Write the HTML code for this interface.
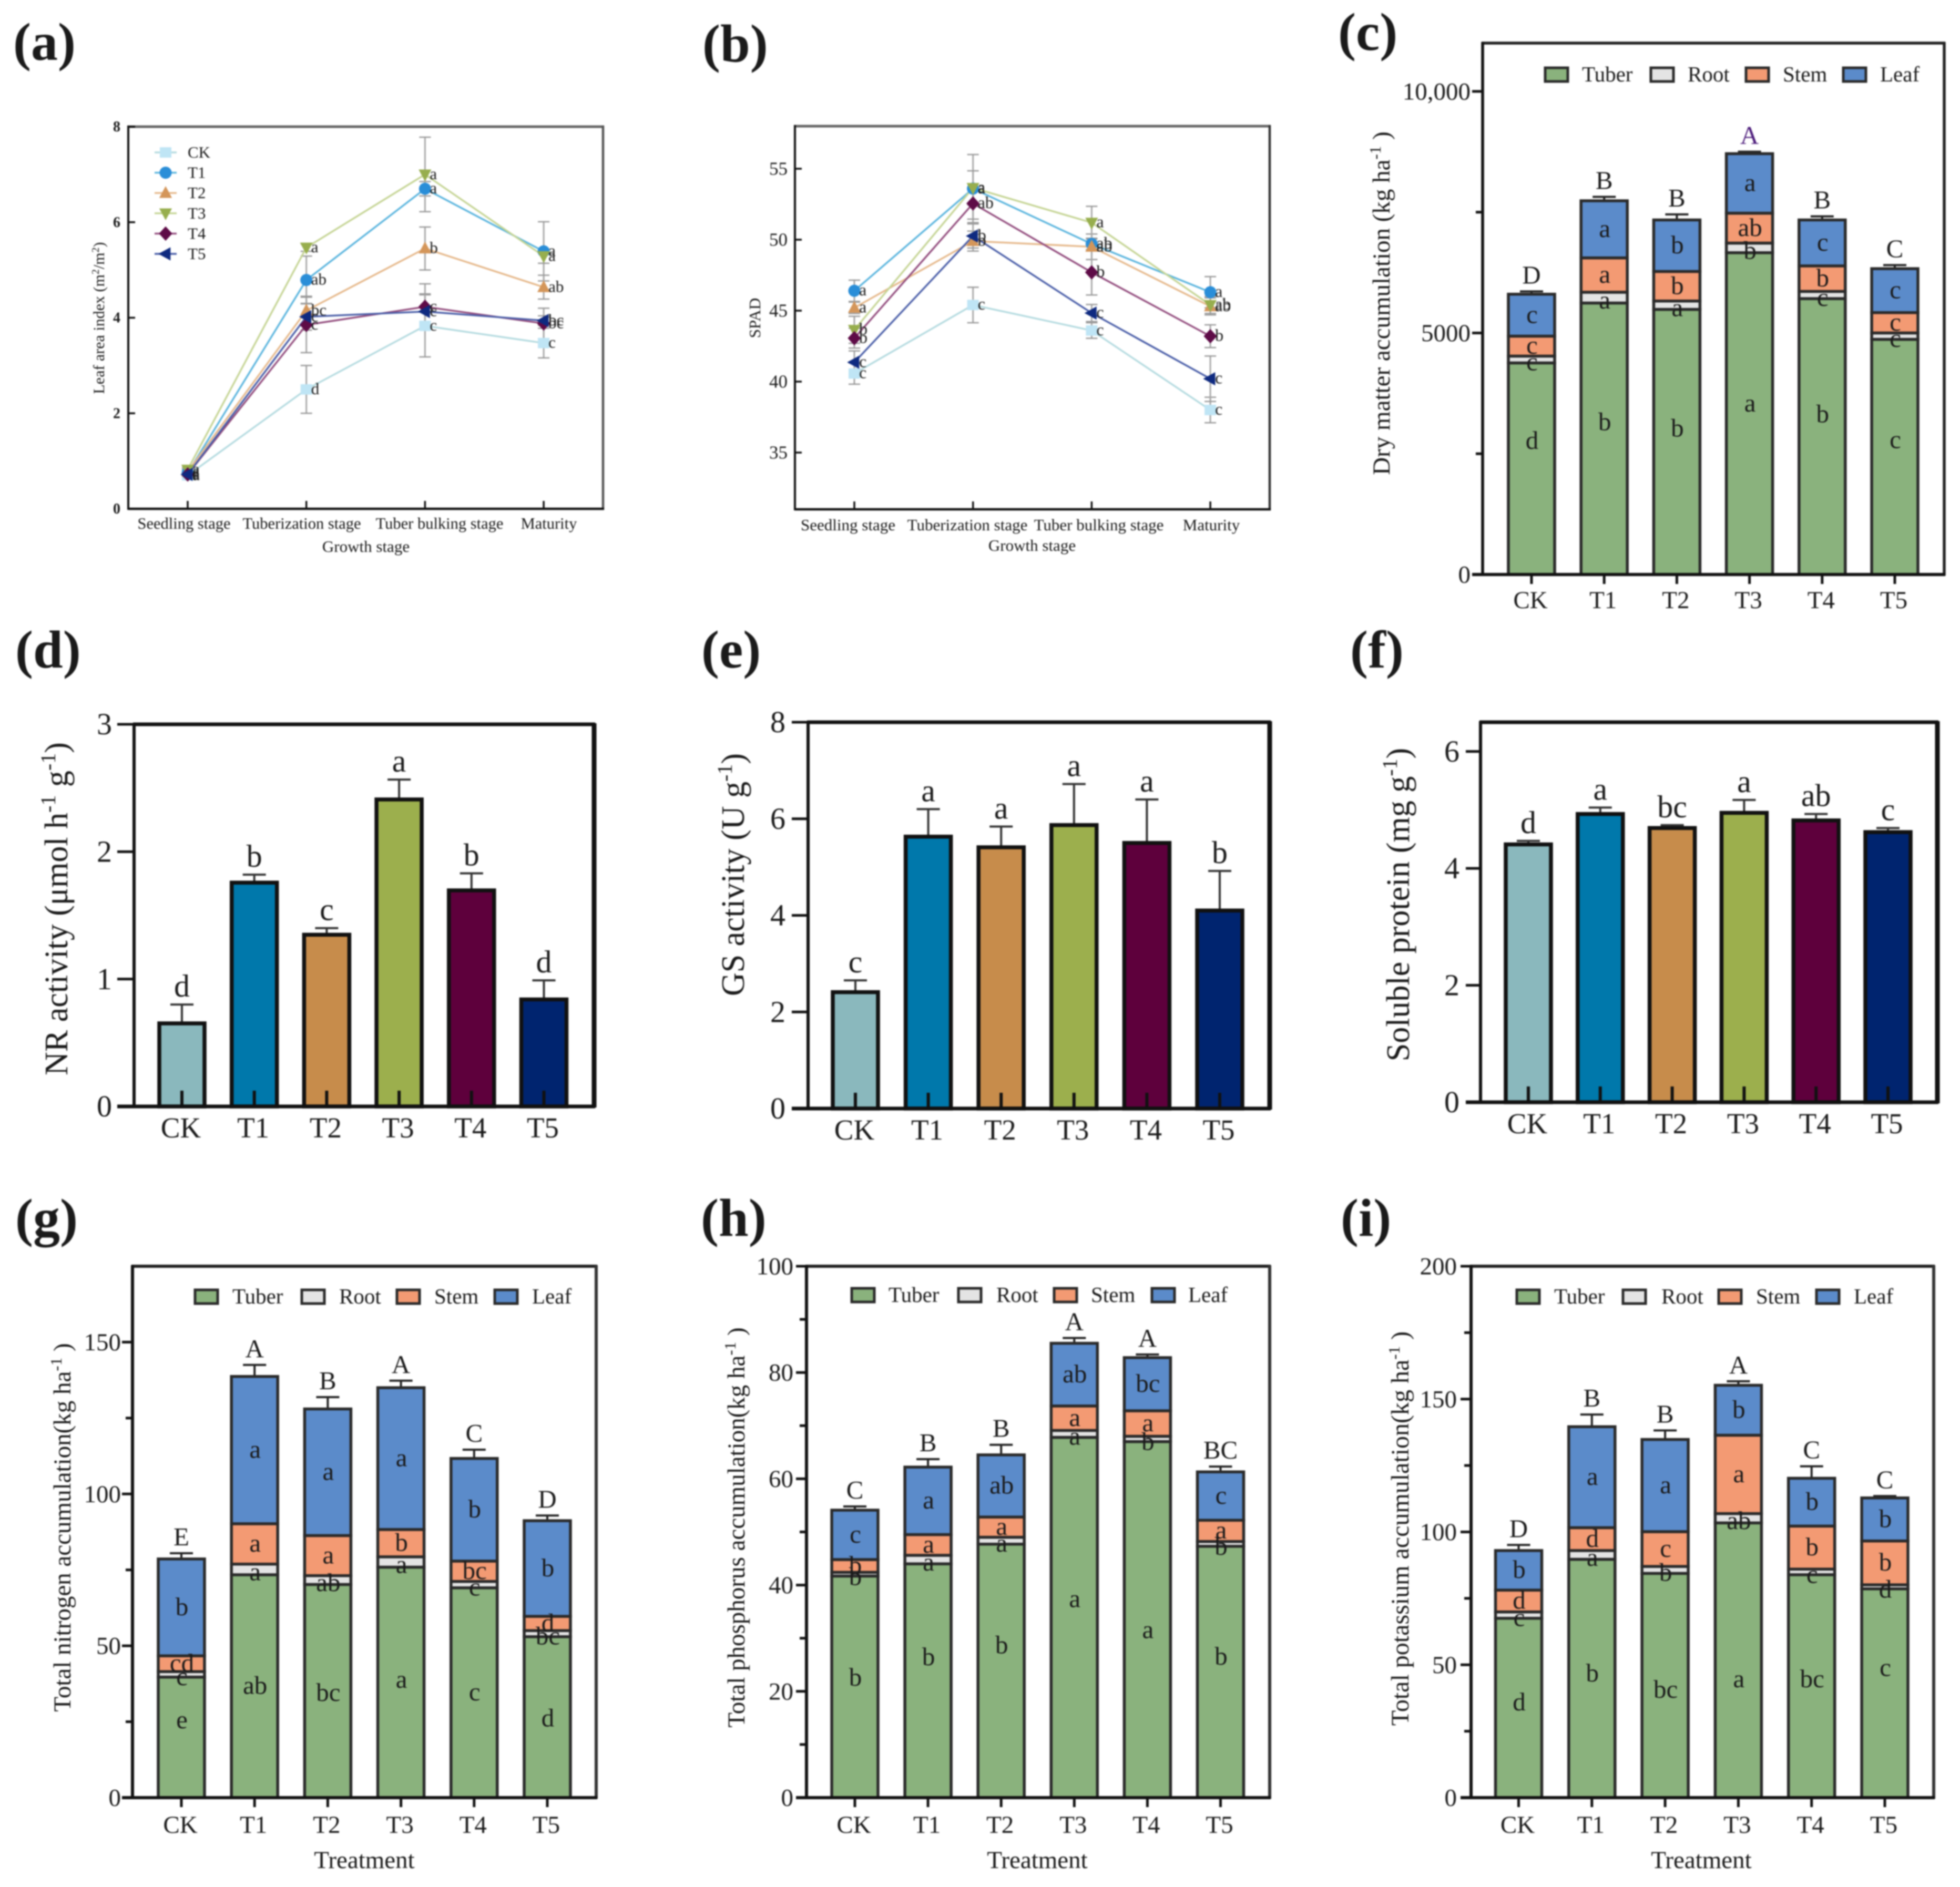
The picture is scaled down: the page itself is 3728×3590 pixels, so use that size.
<!DOCTYPE html>
<html lang="en">
<head>
<meta charset="utf-8">
<title>Growth and nutrient accumulation panels</title>
<style>
html,body{margin:0;padding:0;background:#fff;}
body{width:3728px;height:3590px;overflow:hidden;}
svg{display:block;filter:blur(1.3px);}
text{font-family:"Liberation Serif","Noto Serif CJK SC",serif;fill:#1a1a1a;}
</style>
</head>
<body>
<svg id="figure" xmlns="http://www.w3.org/2000/svg" width="3728" height="3590" viewBox="0 0 3728 3590">
<rect x="0" y="0" width="3728" height="3590" fill="#ffffff"/>
<g font-size="102" font-weight="bold">
<text x="25" y="114">(a)</text>
<text x="1336" y="117">(b)</text>
<text x="2545" y="95">(c)</text>
<text x="29" y="1270">(d)</text>
<text x="1334" y="1270">(e)</text>
<text x="2568" y="1270">(f)</text>
<text x="29" y="2351">(g)</text>
<text x="1333" y="2351">(h)</text>
<text x="2550" y="2351">(i)</text>
</g>
<text transform="translate(198,605) rotate(-90)" text-anchor="middle" font-size="30">Leaf area index (m<tspan dy="-10" font-size="20">2</tspan><tspan dy="10">/m</tspan><tspan dy="-10" font-size="20">2</tspan><tspan dy="10">)</tspan></text>
<text transform="translate(1446,605) rotate(-90)" text-anchor="middle" font-size="31">SPAD</text>
<text transform="translate(2643,577) rotate(-90)" text-anchor="middle" font-size="47">Dry matter accumulation (kg ha<tspan dy="-17" font-size="31">-1</tspan><tspan dy="17"> )</tspan></text>
<text transform="translate(128,1729) rotate(-90)" text-anchor="middle" font-size="62">NR activity (μmol h<tspan dy="-23" font-size="40">-1</tspan><tspan dy="23"> g</tspan><tspan dy="-23" font-size="40">-1</tspan><tspan dy="23">)</tspan></text>
<text transform="translate(1415,1664) rotate(-90)" text-anchor="middle" font-size="62">GS activity (U g<tspan dy="-23" font-size="40">-1</tspan><tspan dy="23">)</tspan></text>
<text transform="translate(2680,1721) rotate(-90)" text-anchor="middle" font-size="62">Soluble protein (mg g<tspan dy="-23" font-size="40">-1</tspan><tspan dy="23">)</tspan></text>
<text transform="translate(134,2906) rotate(-90)" text-anchor="middle" font-size="47">Total nitrogen accumulation(kg ha<tspan dy="-17" font-size="31">-1</tspan><tspan dy="17"> )</tspan></text>
<text transform="translate(1416,2906) rotate(-90)" text-anchor="middle" font-size="47">Total phosphorus accumulation(kg ha<tspan dy="-17" font-size="31">-1</tspan><tspan dy="17"> )</tspan></text>
<text transform="translate(2679,2908) rotate(-90)" text-anchor="middle" font-size="48">Total potassium accumulation(kg ha<tspan dy="-17" font-size="31">-1</tspan><tspan dy="17"> )</tspan></text>
<text x="696" y="1050" text-anchor="middle" font-size="31">Growth stage</text>
<text x="1963" y="1048" text-anchor="middle" font-size="31">Growth stage</text>
<text x="693" y="3554" text-anchor="middle" font-size="47">Treatment</text>
<text x="1973" y="3554" text-anchor="middle" font-size="47">Treatment</text>
<text x="3236" y="3554" text-anchor="middle" font-size="47">Treatment</text>
</svg>
<script>
// ---------- shared categories ----------
const treatments = ['CK', 'T1', 'T2', 'T3', 'T4', 'T5'];
const stages = ['Seedling stage', 'Tuberization stage', 'Tuber bulking stage', 'Maturity'];
const stackParts = ['Tuber', 'Root', 'Stem', 'Leaf'];

// ---------- panel a: leaf area index ----------
const aCK = [0.70, 2.50, 3.83, 3.47];
const aT1 = [0.75, 4.79, 6.70, 5.39];
const aT2 = [0.78, 4.15, 5.45, 4.64];
const aT3 = [0.82, 5.47, 7.00, 5.29];
const aT4 = [0.72, 3.85, 4.23, 3.88];
const aT5 = [0.72, 4.02, 4.13, 3.94];
const aErrCK = [0.08, 0.50, 0.65, 0.31];
const aErrT1 = [0.08, 0.50, 0.15, 0.62];
const aErrT2 = [0.08, 0.30, 0.45, 0.25];
const aErrT3 = [0.08, 0.08, 0.78, 0.15];
const aErrT4 = [0.08, 0.58, 0.48, 0.32];
const aErrT5 = [0.08, 0.28, 0.37, 0.10];
const aLetCK = ['a', 'd', 'c', 'c'];
const aLetT1 = ['a', 'ab', 'a', 'a'];
const aLetT2 = ['a', 'bc', 'b', 'ab'];
const aLetT3 = ['a', 'a', 'a', 'a'];
const aLetT4 = ['a', 'c', 'c', 'bc'];
const aLetT5 = ['a', 'c', 'c', 'bc'];
const aTicks = [0, 2, 4, 6, 8];

// ---------- panel b: SPAD ----------
const bCK = [40.57, 45.40, 43.60, 38.00];
const bT1 = [46.40, 53.60, 49.70, 46.30];
const bT2 = [45.20, 49.90, 49.50, 45.30];
const bT3 = [43.65, 53.65, 51.20, 45.40];
const bT4 = [43.06, 52.55, 47.70, 43.20];
const bT5 = [41.36, 50.26, 44.83, 40.20];
const bErrCK = [0.75, 1.25, 0.55, 0.90];
const bErrT1 = [0.75, 2.40, 0.40, 1.10];
const bErrT2 = [0.40, 0.70, 0.90, 0.60];
const bErrT3 = [0.95, 1.20, 1.15, 0.60];
const bErrT4 = [0.70, 1.10, 1.60, 0.80];
const bErrT5 = [0.80, 0.85, 0.60, 1.60];
const bLetCK = ['c', 'c', 'c', 'c'];
const bLetT1 = ['a', 'a', 'ab', 'a'];
const bLetT2 = ['a', 'b', 'ab', 'ab'];
const bLetT3 = ['b', 'a', 'a', 'ab'];
const bLetT4 = ['b', 'ab', 'b', 'b'];
const bLetT5 = ['c', 'b', 'c', 'c'];
const bTicks = [35, 40, 45, 50, 55];

// ---------- panel c: dry matter ----------
const cTuber = [4380, 5620, 5488, 6661, 5711, 4868];
const cRoot = [141, 223, 173, 199, 149, 132];
const cStem = [413, 711, 612, 619, 528, 421];
const cLeaf = [868, 1182, 1066, 1232, 951, 910];
const cErr = [58, 82, 116, 41, 74, 74];
const cTuberLet = ['d', 'b', 'b', 'a', 'b', 'c'];
const cRootLet = ['c', 'a', 'a', 'b', 'c', 'c'];
const cStemLet = ['c', 'a', 'b', 'ab', 'b', 'c'];
const cLeafLet = ['c', 'a', 'b', 'a', 'c', 'c'];
const cTopLet = ['D', 'B', 'B', 'A', 'B', 'C'];
const cTuberLetFrac = [0.63, 0.56, 0.55, 0.53, 0.58, 0.57];
const cTicks = [0, 5000, 10000];
const cTickLabels = ['0', '5000', '10,000'];
const cMinor = [2500, 7500];

// ---------- panel d: NR activity ----------
const dValues = [0.652, 1.757, 1.348, 2.41, 1.696, 0.84];
const dErr = [0.148, 0.063, 0.052, 0.156, 0.134, 0.15];
const dLetters = ['d', 'b', 'c', 'a', 'b', 'd'];
const dTicks = [0, 1, 2, 3];

// ---------- panel e: GS activity ----------
const eValues = [2.41, 5.63, 5.41, 5.87, 5.5, 4.1];
const eErr = [0.245, 0.57, 0.43, 0.85, 0.9, 0.82];
const eLetters = ['c', 'a', 'a', 'a', 'a', 'b'];
const eTicks = [0, 2, 4, 6, 8];

// ---------- panel f: soluble protein ----------
const fValues = [4.41, 4.93, 4.69, 4.95, 4.82, 4.62];
const fErr = [0.06, 0.11, 0.05, 0.22, 0.11, 0.07];
const fLetters = ['d', 'a', 'bc', 'a', 'ab', 'c'];
const fTicks = [0, 2, 4, 6];

// ---------- panel g: nitrogen ----------
const gTuber = [39.7, 73.4, 70.2, 75.9, 69.1, 53];
const gRoot = [1.8, 3.5, 2.9, 3.4, 2.1, 2];
const gStem = [5.2, 13.3, 13.2, 9, 6.7, 4.7];
const gLeaf = [31.9, 48.5, 41.7, 46.7, 33.8, 31.5];
const gErr = [1.9, 3.8, 3.9, 2.3, 2.9, 1.7];
const gTuberLet = ['e', 'ab', 'bc', 'a', 'c', 'd'];
const gRootLet = ['c', 'a', 'ab', 'a', 'c', 'bc'];
const gStemLet = ['cd', 'a', 'a', 'b', 'bc', 'd'];
const gLeafLet = ['b', 'a', 'a', 'a', 'b', 'b'];
const gTopLet = ['E', 'A', 'B', 'A', 'C', 'D'];
const gTuberLetFrac = [0.64, 0.5, 0.49, 0.51, 0.5, 0.49];
const gTicks = [0, 50, 100, 150];
const gMinor = [25, 75, 125];

// ---------- panel h: phosphorus ----------
const hTuber = [41.7, 44, 47.7, 67.8, 67, 47.3];
const hRoot = [0.7, 1.6, 1.3, 1.3, 1, 0.9];
const hStem = [2.4, 3.9, 3.8, 4.6, 4.8, 4];
const hLeaf = [9.3, 12.7, 11.7, 11.8, 10, 9.1];
const hErr = [0.7, 1.5, 1.9, 1, 0.6, 1];
const hTuberLet = ['b', 'b', 'b', 'a', 'a', 'b'];
const hRootLet = ['b', 'a', 'a', 'a', 'b', 'b'];
const hStemLet = ['b', 'a', 'a', 'a', 'a', 'a'];
const hLeafLet = ['c', 'a', 'ab', 'ab', 'bc', 'c'];
const hTopLet = ['C', 'B', 'B', 'A', 'A', 'BC'];
const hTuberLetFrac = [0.54, 0.6, 0.6, 0.55, 0.47, 0.56];
const hTicks = [0, 20, 40, 60, 80, 100];
const hMinor = [10, 30, 50, 70, 90];

// ---------- panel i: potassium ----------
const iTuber = [67.5, 89.7, 84.4, 103.4, 83.9, 78.6];
const iRoot = [2.4, 3.3, 2.6, 3.5, 2.1, 1.5];
const iStem = [8.2, 8.6, 13.1, 29.5, 16.2, 16.5];
const iLeaf = [14.9, 38, 34.7, 18.8, 18, 16.2];
const iErr = [2.1, 4.6, 3.4, 1.5, 4.5, 0.7];
const iTuberLet = ['d', 'b', 'bc', 'a', 'bc', 'c'];
const iRootLet = ['c', 'a', 'b', 'ab', 'c', 'd'];
const iStemLet = ['d', 'd', 'c', 'a', 'b', 'b'];
const iLeafLet = ['b', 'a', 'a', 'b', 'b', 'b'];
const iTopLet = ['D', 'B', 'B', 'A', 'C', 'C'];
const iTuberLetFrac = [0.53, 0.52, 0.48, 0.43, 0.53, 0.62];
const iTicks = [0, 50, 100, 150, 200];
const iMinor = [25, 75, 125, 175];

// ---------- styles ----------
const NS = 'http://www.w3.org/2000/svg';
const root = document.getElementById('figure');
const singleColors = ['#8ab8bd', '#0078ab', '#c78c4b', '#9caf4d', '#5e003c', '#00246f'];
const markerColors = ['#bfe5f5', '#2a8ed8', '#d4965a', '#97ae4d', '#5e0b47', '#0f2a80'];
const lineColors = ['#b5dbe0', '#5bb5de', '#e6b98c', '#c6d596', '#934d7e', '#4a5ea8'];
const partColors = ['#8ab27d', '#e4e4e4', '#f39a73', '#5b8bca'];

function make(tag, attrs, parent, content) {
  const node = document.createElementNS(NS, tag);
  for (const key in attrs) node.setAttribute(key, attrs[key]);
  if (content !== undefined) node.textContent = content;
  parent.appendChild(node);
  return node;
}
function yAxisFn(p) {
  return function (v) { return p.bottom - (v - p.ymin) / (p.ymax - p.ymin) * (p.bottom - p.top); };
}
function xAxisFn(p) {
  return function (i) { return p.first + i * p.step; };
}
function drawLineSeg(parent, x1, y1, x2, y2, color, width, name) {
  const seg = make('line', { x1: x1, y1: y1, x2: x2, y2: y2, stroke: color, 'stroke-width': width }, parent);
  
  
  return seg;
}
function drawText(parent, x, y, str, size, anchor, name, extra) {
  const label = make('text', Object.assign({ x: x, y: y, 'font-size': size, 'text-anchor': anchor }, extra || {}), parent, str);
  
  
  return label;
}

function drawAxes(p, g, ticks, tickLabels, minor, xLabels) {
  const y = yAxisFn(p), x = xAxisFn(p);
  drawLineSeg(g, p.left - 2, p.top, p.right + 2, p.top, p.frameTop, p.wTop, 'frame-top');
  drawLineSeg(g, p.right, p.top - 2, p.right, p.bottom + 2, p.frameRight, p.wRight, 'frame-right');
  ticks.forEach(function (v, i) {
    if (p.tickIn) drawLineSeg(g, p.left, y(v), p.left + p.tickOut, y(v), '#111', p.wTick, 'y-tick');
    else drawLineSeg(g, p.left - p.tickOut, y(v), p.left, y(v), '#111', p.wTick, 'y-tick');
    drawText(g, p.labelEnd, y(v) + p.tickFont * 0.33, tickLabels[i], p.tickFont, 'end', 'y-tick-label', p.tickBold ? { 'font-weight': 'bold' } : {});
  });
  (minor || []).forEach(function (v) {
    drawLineSeg(g, p.left - p.tickOut * 0.65, y(v), p.left, y(v), '#111', p.wTick, 'y-minor-tick');
  });
  xLabels.forEach(function (lab, i) {
    if (p.xTickDir === 'down') drawLineSeg(g, x(i), p.bottom, x(i), p.bottom + p.xTickLen, '#111', p.wTick, 'x-tick');
    if (p.xTickDir === 'up' && p.lineChart) drawLineSeg(g, x(i), p.bottom - p.xTickLen, x(i), p.bottom, '#111', p.wTick, 'x-tick');
    const cx = p.xLabelCenters ? p.xLabelCenters[i] : x(i) - 2;
    drawText(g, cx, p.xBaseline, lab, p.xFont, 'middle', 'x-tick-label');
  });
}
function drawBottomLeft(p, g) {
  drawLineSeg(g, p.left, p.top - 2, p.left, p.bottom + 2, '#111', p.wLeft, 'y-axis-line');
  drawLineSeg(g, p.left - (p.tickIn ? 0 : p.tickOut), p.bottom, p.right + 2, p.bottom, '#111', p.wBottom, 'x-axis-line');
}

function markerShape(g, kind, cx, cy, s, color) {
  let m;
  if (kind === 0) m = make('rect', { x: cx - s, y: cy - s * 0.9, width: 2 * s, height: 1.8 * s, fill: color }, g);
  else if (kind === 1) m = make('circle', { cx: cx, cy: cy, r: s * 1.05, fill: color }, g);
  else if (kind === 2) m = make('polygon', { points: [cx, cy - s * 1.2, cx + s * 1.1, cy + s * 0.85, cx - s * 1.1, cy + s * 0.85].join(' '), fill: color }, g);
  else if (kind === 3) m = make('polygon', { points: [cx, cy + s * 1.2, cx + s * 1.1, cy - s * 0.85, cx - s * 1.1, cy - s * 0.85].join(' '), fill: color }, g);
  else if (kind === 4) m = make('polygon', { points: [cx, cy - s * 1.25, cx + s * 1.15, cy, cx, cy + s * 1.25, cx - s * 1.15, cy].join(' '), fill: color }, g);
  else m = make('polygon', { points: [cx - s * 1.25, cy, cx + s * 0.85, cy - s * 1.15, cx + s * 0.85, cy + s * 1.15].join(' '), fill: color }, g);
  return m;
}

function drawLinePanel(p, name, ticks, tickLabels, values, errs, letters) {
  const g = make('g', {}, root);
  
  
  const y = yAxisFn(p), x = xAxisFn(p);
  drawAxes(p, g, ticks, tickLabels, null, stages);
  values.forEach(function (series, s) {
    series.forEach(function (v, i) {
      const hi = y(v + errs[s][i]), lo = y(v - errs[s][i]);
      drawLineSeg(g, x(i), hi, x(i), lo, '#a8a8a8', 3, 'error-bar-' + treatments[s]);
      drawLineSeg(g, x(i) - 11, hi, x(i) + 11, hi, '#999', 2.5, 'error-cap-' + treatments[s]);
      drawLineSeg(g, x(i) - 11, lo, x(i) + 11, lo, '#999', 2.5, 'error-cap-' + treatments[s]);
    });
  });
  values.forEach(function (series, s) {
    const line = make('polyline', { points: series.map(function (v, i) { return x(i) + ',' + y(v); }).join(' '), fill: 'none', stroke: lineColors[s], 'stroke-width': 3.4 }, g);
    
    
  });
  values.forEach(function (series, s) {
    series.forEach(function (v, i) {
      const m = markerShape(g, s, x(i), y(v), 11, markerColors[s]);
      
      
    });
  });
  values.forEach(function (series, s) {
    series.forEach(function (v, i) {
      drawText(g, x(i) + 9, y(v) + 9, letters[s][i], p.letterFont, 'start', 'significance-letter');
    });
  });
  drawBottomLeft(p, g);
  return g;
}

function drawSinglePanel(p, name, ticks, values, errs, letters) {
  const g = make('g', {}, root);
  
  
  const y = yAxisFn(p), x = xAxisFn(p);
  drawAxes(p, g, ticks, ticks.map(String), null, treatments);
  values.forEach(function (v, i) {
    const cap = y(v + errs[i]);
    drawLineSeg(g, x(i), cap, x(i), y(v), '#333', 4, 'error-bar-' + treatments[i]);
    drawLineSeg(g, x(i) - 22, cap, x(i) + 22, cap, '#333', 4, 'error-cap-' + treatments[i]);
    const bar = make('rect', { x: x(i) - p.barW / 2, y: y(v), width: p.barW, height: p.bottom - y(v), fill: singleColors[i], stroke: '#111', 'stroke-width': 7.5 }, g);
    
    
    drawLineSeg(g, x(i), p.bottom - 30, x(i), p.bottom, '#111', 6, 'x-tick');
    drawText(g, x(i), cap - 15, letters[i], p.letterFont, 'middle', 'significance-letter');
  });
  drawBottomLeft(p, g);
  return g;
}

function drawStackPanel(p, name, ticks, tickLabels, minor, parts, errs, partLetters, tuberFrac, topLetters, legendX, legendTextX, legendY) {
  const g = make('g', {}, root);
  
  
  const y = yAxisFn(p), x = xAxisFn(p);
  drawAxes(p, g, ticks, tickLabels, minor, treatments);
  treatments.forEach(function (cat, i) {
    const total = parts[0][i] + parts[1][i] + parts[2][i] + parts[3][i];
    const cap = y(total + errs[i]);
    drawLineSeg(g, x(i), cap, x(i), y(total), '#222', 4, 'error-bar-' + cat);
    drawLineSeg(g, x(i) - 22, cap, x(i) + 22, cap, '#222', 4, 'error-cap-' + cat);
    let base = 0;
    parts.forEach(function (part, k) {
      const v = part[i];
      const seg = make('rect', { x: x(i) - p.barW / 2, y: y(base + v), width: p.barW, height: y(base) - y(base + v), fill: partColors[k], stroke: '#2a2a2a', 'stroke-width': 5.5 }, g);
      
      
      base += v;
    });
    drawLineSeg(g, x(i), p.bottom, x(i), p.bottom + p.xTickLen, '#111', p.wTick, 'x-tick');
    base = 0;
    parts.forEach(function (part, k) {
      const v = part[i];
      const at = k === 0 ? v * tuberFrac[i] : base + v / 2;
      const nudge = k === 1 ? 6 : 0;
      drawText(g, x(i) + 1, y(at) + p.letterFont * 0.3 + nudge, partLetters[k][i], p.letterFont, 'middle', 'segment-letter-' + stackParts[k]);
      base += v;
    });
    const tl = drawText(g, x(i), cap - 15, topLetters[i], p.letterFont, 'middle', 'group-letter');
    if (p.purpleA && topLetters[i] === 'A') tl.setAttribute('style', 'fill:#4b1a7a');
  });
  stackParts.forEach(function (part, k) {
    const sw = make('rect', { x: legendX[k], y: legendY, width: 43, height: 26, fill: partColors[k], stroke: '#2a2a2a', 'stroke-width': 5 }, g);
    
    
    drawText(g, legendTextX[k], legendY + 26, part, 41, 'start', 'legend-entry-' + part);
  });
  drawBottomLeft(p, g);
  return g;
}

// ---------- panel geometry ----------
const frameA = { left: 244, right: 1147, top: 241, bottom: 968, ymin: 0, ymax: 8, first: 357, step: 225.7, tickFont: 28, tickBold: true, labelEnd: 229, tickOut: 13, tickIn: true, wTick: 3.5, wLeft: 4, wBottom: 4.5, wTop: 5, wRight: 4.5, frameTop: '#666', frameRight: '#555', xBaseline: 1006, xFont: 30.5, xTickDir: 'up', xTickLen: 15, lineChart: true, letterFont: 31, xLabelCenters: [350, 574, 836, 1044] };
const frameB = { left: 1512, right: 2415, top: 240, bottom: 969, ymin: 31, ymax: 58, first: 1625, step: 225.7, tickFont: 35, labelEnd: 1498, tickOut: 13, tickIn: true, wTick: 3.5, wLeft: 4, wBottom: 4.5, wTop: 5, wRight: 4.5, frameTop: '#666', frameRight: '#333', xBaseline: 1009, xFont: 31, xTickDir: 'up', xTickLen: 15, lineChart: true, letterFont: 32, xLabelCenters: [1613, 1840, 2090, 2304] };
const frameC = { left: 2820, right: 3698, top: 82, bottom: 1093, ymin: 0, ymax: 11000, first: 2913, step: 138.2, barW: 88, tickFont: 47, labelEnd: 2797, tickOut: 20, wTick: 5, wLeft: 5.5, wBottom: 6, wTop: 5.5, wRight: 5.5, frameTop: '#222', frameRight: '#222', xBaseline: 1157, xFont: 47, xTickDir: 'none', xTickLen: 18, letterFont: 49, purpleA: true };
const frameD = { left: 255, right: 1130, top: 1378, bottom: 2105, ymin: 0, ymax: 3, first: 346, step: 137.7, barW: 86, tickFont: 58, labelEnd: 213, tickOut: 32, wTick: 5, wLeft: 6, wBottom: 7, wTop: 7, wRight: 9, frameTop: '#111', frameRight: '#111', xBaseline: 2164, xFont: 55, xTickDir: 'none', letterFont: 60 };
const frameE = { left: 1537, right: 2415, top: 1374, bottom: 2109, ymin: 0, ymax: 8, first: 1627, step: 138.6, barW: 86, tickFont: 58, labelEnd: 1494, tickOut: 31, wTick: 5, wLeft: 6, wBottom: 7, wTop: 7, wRight: 9, frameTop: '#111', frameRight: '#111', xBaseline: 2168, xFont: 55, xTickDir: 'none', letterFont: 60 };
const frameF = { left: 2816, right: 3685, top: 1374, bottom: 2097, ymin: 0, ymax: 6.5, first: 2907, step: 136.8, barW: 86, tickFont: 58, labelEnd: 2776, tickOut: 28, wTick: 5, wLeft: 6, wBottom: 7, wTop: 7, wRight: 9, frameTop: '#111', frameRight: '#111', xBaseline: 2156, xFont: 55, xTickDir: 'none', letterFont: 60 };
const frameG = { left: 252, right: 1134, top: 2409, bottom: 3420, ymin: 0, ymax: 175, first: 345, step: 139.2, barW: 88, tickFont: 47, labelEnd: 230, tickOut: 20, wTick: 5, wLeft: 6, wBottom: 6, wTop: 6, wRight: 6, frameTop: '#222', frameRight: '#333', xBaseline: 3487, xFont: 47, xTickDir: 'none', xTickLen: 18, letterFont: 49 };
const frameH = { left: 1534, right: 2415, top: 2409, bottom: 3420, ymin: 0, ymax: 100, first: 1626, step: 139.1, barW: 88, tickFont: 47, labelEnd: 1509, tickOut: 20, wTick: 5, wLeft: 6, wBottom: 6, wTop: 6, wRight: 6, frameTop: '#222', frameRight: '#333', xBaseline: 3487, xFont: 47, xTickDir: 'none', xTickLen: 18, letterFont: 49 };
const frameI = { left: 2798, right: 3678, top: 2409, bottom: 3420, ymin: 0, ymax: 200, first: 2888.5, step: 139.3, barW: 88, tickFont: 47, labelEnd: 2771, tickOut: 20, wTick: 5, wLeft: 6, wBottom: 6, wTop: 6, wRight: 6, frameTop: '#222', frameRight: '#333', xBaseline: 3487, xFont: 47, xTickDir: 'none', xTickLen: 18, letterFont: 49 };

// ---------- draw ----------
const chartA = drawLinePanel(frameA, 'leaf-area-index', aTicks, aTicks.map(String),
  [aCK, aT1, aT2, aT3, aT4, aT5], [aErrCK, aErrT1, aErrT2, aErrT3, aErrT4, aErrT5],
  [aLetCK, aLetT1, aLetT2, aLetT3, aLetT4, aLetT5]);
drawLinePanel(frameB, 'spad', bTicks, bTicks.map(String),
  [bCK, bT1, bT2, bT3, bT4, bT5], [bErrCK, bErrT1, bErrT2, bErrT3, bErrT4, bErrT5],
  [bLetCK, bLetT1, bLetT2, bLetT3, bLetT4, bLetT5]);

treatments.forEach(function (cat, s) {
  const rowY = 290 + s * 38.6;
  drawLineSeg(chartA, 294, rowY, 336, rowY, lineColors[s], 3.4, 'legend-line-' + cat);
  const m = markerShape(chartA, s, 315, rowY, 11, markerColors[s]);
  
  
  drawText(chartA, 357, rowY + 10, cat, 31, 'start', 'legend-entry-' + cat);
});

drawStackPanel(frameC, 'dry-matter', cTicks, cTickLabels, cMinor, [cTuber, cRoot, cStem, cLeaf], cErr,
  [cTuberLet, cRootLet, cStemLet, cLeafLet], cTuberLetFrac, cTopLet,
  [2939, 3140, 3321, 3506], [3009, 3210, 3391, 3576], 129);
drawSinglePanel(frameD, 'nr-activity', dTicks, dValues, dErr, dLetters);
drawSinglePanel(frameE, 'gs-activity', eTicks, eValues, eErr, eLetters);
drawSinglePanel(frameF, 'soluble-protein', fTicks, fValues, fErr, fLetters);
drawStackPanel(frameG, 'total-nitrogen', gTicks, gTicks.map(String), gMinor, [gTuber, gRoot, gStem, gLeaf], gErr,
  [gTuberLet, gRootLet, gStemLet, gLeafLet], gTuberLetFrac, gTopLet,
  [371, 574, 755, 941], [442, 645, 826, 1012], 2454);
drawStackPanel(frameH, 'total-phosphorus', hTicks, hTicks.map(String), hMinor, [hTuber, hRoot, hStem, hLeaf], hErr,
  [hTuberLet, hRootLet, hStemLet, hLeafLet], hTuberLetFrac, hTopLet,
  [1620, 1823, 2005, 2191], [1690, 1895, 2075, 2260], 2451);
drawStackPanel(frameI, 'total-potassium', iTicks, iTicks.map(String), iMinor, [iTuber, iRoot, iStem, iLeaf], iErr,
  [iTuberLet, iRootLet, iStemLet, iLeafLet], iTuberLetFrac, iTopLet,
  [2885, 3087, 3269, 3455], [2956, 3160, 3340, 3526], 2454);
</script>
</body>
</html>
